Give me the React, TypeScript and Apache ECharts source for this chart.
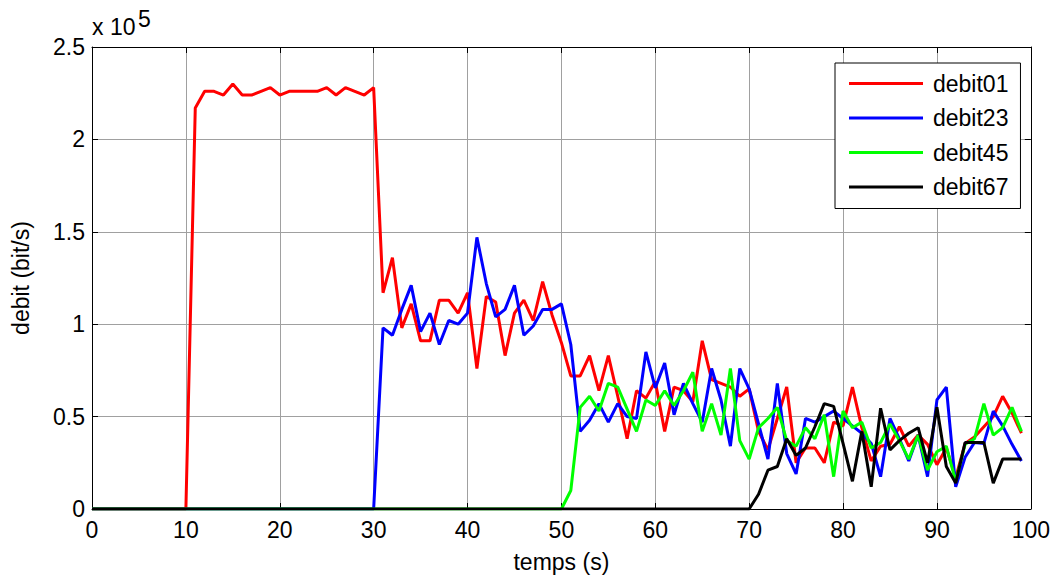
import React, { useEffect, useRef } from "react";
import * as echarts from "echarts";

const FONT = "Liberation Sans, Arial, Helvetica, sans-serif";

// values in units of 1e5 bit/s; each series is 0 from t=0 until its start time
const debit01Start = 10;
const debit01 = [
  0, 2.17, 2.26, 2.26, 2.24, 2.3, 2.24, 2.24, 2.26, 2.28, 2.24, 2.26, 2.26, 2.26, 2.26, 2.28, 2.24, 2.28, 2.26, 2.24,
  2.28, 1.17, 1.36, 0.98, 1.11, 0.91, 0.91, 1.13, 1.13, 1.06, 1.17, 0.76, 1.15, 1.12, 0.83, 1.06, 1.13, 1.02, 1.23,
  1.05, 0.9, 0.72, 0.72, 0.83, 0.64, 0.83, 0.61, 0.38, 0.64, 0.6, 0.69, 0.42, 0.66, 0.64, 0.58, 0.91, 0.7, 0.68, 0.66,
  0.61, 0.65, 0.42, 0.32, 0.49, 0.66, 0.25, 0.33, 0.33, 0.25, 0.47, 0.45, 0.66, 0.44, 0.26, 0.34, 0.35, 0.445, 0.34,
  0.4, 0.35, 0.24, 0.33, 0.17, 0.355, 0.39, 0.445, 0.5, 0.61, 0.52, 0.41,
];

const debit23Start = 30;
const debit23 = [
  0, 0.98, 0.94, 1.08, 1.21, 0.96, 1.06, 0.89, 1.02, 1.0, 1.06, 1.47, 1.22, 1.04, 1.08, 1.21, 0.94, 0.99, 1.08, 1.08,
  1.11, 0.89, 0.42, 0.48, 0.57, 0.47, 0.57, 0.5, 0.49, 0.85, 0.655, 0.79, 0.51, 0.68, 0.57, 0.47, 0.76, 0.59, 0.34,
  0.76, 0.65, 0.46, 0.27, 0.68, 0.3, 0.19, 0.49, 0.47, 0.5, 0.53, 0.49, 0.45, 0.41, 0.355, 0.175, 0.49, 0.38, 0.26,
  0.4, 0.175, 0.59, 0.66, 0.12, 0.28, 0.36, 0.355, 0.53, 0.45, 0.35, 0.26,
];

const debit45Start = 50;
const debit45 = [
  0, 0.1, 0.55, 0.61, 0.53, 0.68, 0.66, 0.54, 0.42, 0.59, 0.56, 0.64, 0.56, 0.64, 0.74, 0.42, 0.57, 0.4, 0.76, 0.37,
  0.27, 0.44, 0.49, 0.55, 0.37, 0.34, 0.44, 0.38, 0.51, 0.175, 0.53, 0.44, 0.47, 0.33, 0.36, 0.46, 0.37, 0.27, 0.4,
  0.21, 0.31, 0.34, 0.15, 0.35, 0.38, 0.57, 0.4, 0.44, 0.55, 0.42,
];

const debit67Start = 70;
const debit67 = [
  0, 0.08, 0.21, 0.23, 0.38, 0.29, 0.33, 0.445, 0.57, 0.555, 0.355, 0.15, 0.42, 0.12, 0.545, 0.32, 0.37, 0.41, 0.44,
  0.25, 0.55, 0.23, 0.14, 0.36, 0.36, 0.36, 0.14, 0.27, 0.27, 0.27,
];

const seriesNames = ["debit01", "debit23", "debit45", "debit67"];
const seriesColors = ["#ff0000", "#0000ff", "#00ff00", "#000000"];
const xTickInterval = 10;
const yTickInterval = 0.5;

function toPoints(start: number, vals: number[]) {
  const pts: [number, number][] = [[0, 0]];
  vals.forEach((v, i) => pts.push([start + i, v]));
  return pts;
}

export default function App() {
  const ref = useRef<HTMLDivElement>(null);
  useEffect(() => {
    if (!ref.current) return;
    const chart = echarts.init(ref.current, undefined, { renderer: "svg" });
    const all = [
      toPoints(debit01Start, debit01),
      toPoints(debit23Start, debit23),
      toPoints(debit45Start, debit45),
      toPoints(debit67Start, debit67),
    ];
    const tickStyle = { inside: true, length: 6, lineStyle: { color: "#000", width: 1 } };
    const lineAxis = { show: true, onZero: false, lineStyle: { color: "#000", width: 1 } };
    const labelStyle = { color: "#000", fontSize: 23, fontFamily: FONT };
    chart.setOption({
      animation: false,
      backgroundColor: "#fff",
      grid: { left: 92, right: 22, top: 47, bottom: 70, show: false },
      xAxis: [
        {
          type: "value",
          min: 0,
          max: 100,
          interval: xTickInterval,
          position: "bottom",
          axisLine: lineAxis,
          axisTick: tickStyle,
          axisLabel: { ...labelStyle, margin: 9 },
          splitLine: { show: true, lineStyle: { color: "#a0a0a0", width: 1 } },
          name: "temps (s)",
          nameLocation: "middle",
          nameGap: 41,
          nameTextStyle: { ...labelStyle },
        },
        {
          type: "value",
          min: 0,
          max: 100,
          interval: xTickInterval,
          position: "top",
          axisLine: lineAxis,
          axisTick: tickStyle,
          axisLabel: { show: false },
          splitLine: { show: false },
        },
      ],
      yAxis: [
        {
          type: "value",
          min: 0,
          max: 2.5,
          interval: yTickInterval,
          position: "left",
          axisLine: lineAxis,
          axisTick: tickStyle,
          axisLabel: { ...labelStyle, margin: 7, formatter: (v: number) => String(v) },
          splitLine: { show: true, lineStyle: { color: "#a0a0a0", width: 1 } },
          name: "debit (bit/s)",
          nameLocation: "middle",
          nameGap: 60,
          nameTextStyle: { ...labelStyle },
        },
        {
          type: "value",
          min: 0,
          max: 2.5,
          interval: yTickInterval,
          position: "right",
          axisLine: lineAxis,
          axisTick: tickStyle,
          axisLabel: { show: false },
          splitLine: { show: false },
        },
      ],
      legend: {
        left: 835,
        top: 63,
        orient: "vertical",
        backgroundColor: "#fff",
        borderColor: "#000",
        borderWidth: 1,
        borderRadius: 0,
        padding: [9, 12, 10, 14],
        itemGap: 11.5,
        itemWidth: 74,
        itemHeight: 3,
        icon: "rect",
        textStyle: { ...labelStyle, padding: [0, 0, 0, 5] },
        data: seriesNames,
      },
      graphic: [
        { type: "text", left: 92, top: 15, style: { text: "x 10", font: `23px ${FONT}`, fill: "#000" } },
        { type: "text", left: 138, top: 7, style: { text: "5", font: `23px ${FONT}`, fill: "#000" } },
      ],
      series: all.map((d, i) => ({
        name: seriesNames[i],
        type: "line",
        data: d,
        showSymbol: false,
        symbol: "none",
        color: seriesColors[i],
        lineStyle: { color: seriesColors[i], width: 3 },
        z: 2 + i,
      })),
    });
    return () => chart.dispose();
  }, []);
  return <div ref={ref} style={{ position: "absolute", left: 0, top: 0, width: 1053, height: 579 }} />;
}
